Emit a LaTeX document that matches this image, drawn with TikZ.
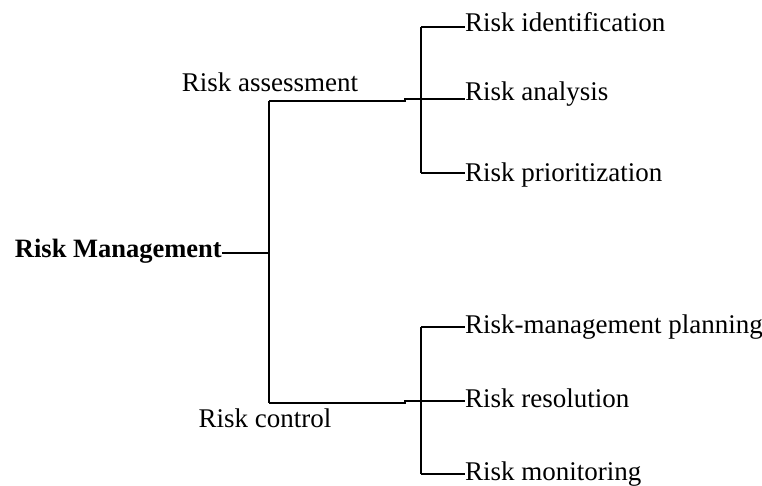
\documentclass[tikz,border=0pt]{standalone}
\usepackage{fontspec}
\setmainfont{Liberation Serif}
\begin{document}
\begin{tikzpicture}[x=1pt,y=-1pt,
  every node/.style={inner sep=0pt, font=\fontsize{27}{32}\selectfont},
  leaf/.style={anchor=base west},
  branch/.style={anchor=base},
  conn/.style={line width=2pt},
  thinconn/.style={line width=1.1pt}
]
\useasboundingbox (0,0) rectangle (762,486);
\fill[white] (0,0) rectangle (762,486);

% root and the two phases
\node[anchor=base east, font=\fontsize{26.5}{32}\selectfont\bfseries] (root) at (222,258) {Risk Management};
\node[branch] (assess) at (270,92) {Risk assessment};
\node[branch] (control) at (265,427) {Risk control};

% activities
\node[leaf] (ident) at (465,32)  {Risk identification};
\node[leaf] (anal)  at (465,101) {Risk analysis};
\node[leaf] (prio)  at (465,182) {Risk prioritization};
\node[leaf] (plan)  at (465,333) {Risk-management planning};
\node[leaf] (reso)  at (465,407) {Risk resolution};
\node[leaf] (moni)  at (465,480) {Risk monitoring};

% junction points
\coordinate (hub)    at (269,253);
\coordinate (ta)     at (269,101);
\coordinate (cb)     at (269,403);
\coordinate (asplit) at (405,101);
\coordinate (csplit) at (405,403);
\coordinate (a1) at (421,27);
\coordinate (a2) at (421,99);
\coordinate (a3) at (421,173);
\coordinate (c1) at (421,327);
\coordinate (c2) at (421,401);
\coordinate (c3) at (421,474);

% trunk
\draw[conn] (hub -| root.east) -- (hub);
\draw[conn] (ta) -- (cb);

% assessment bracket
\draw[conn] (ta) -- (asplit) -- (asplit |- a2) -- (a2 -| anal.west);
\draw[conn] (a1) -- (a3);
\draw[conn] (a1) -- (a1 -| ident.west);
\draw[conn] (a3) -- (a3 -| prio.west);

% control bracket
\draw[conn] (cb) -- (csplit) -- (csplit |- c2) -- (c2 -| reso.west);
\draw[conn] (c1) -- (c3);
\draw[thinconn] (c1) -- (c1 -| plan.west);
\draw[conn] (c3) -- (c3 -| moni.west);
\end{tikzpicture}
\end{document}
